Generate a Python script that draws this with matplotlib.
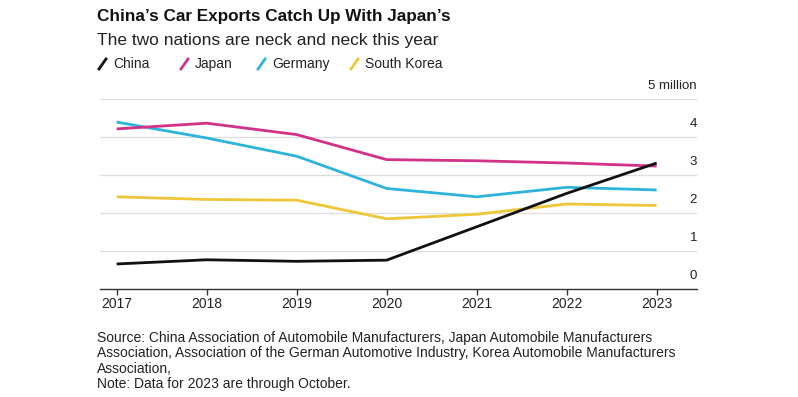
import matplotlib
matplotlib.use("Agg")
import matplotlib.pyplot as plt
from matplotlib.lines import Line2D

plt.rcParams['font.family'] = ['Liberation Sans', 'DejaVu Sans']

years = [2017, 2018, 2019, 2020, 2021, 2022, 2023]
china = [0.66, 0.77, 0.73, 0.76, 1.64, 2.52, 3.32]
japan = [4.22, 4.37, 4.07, 3.41, 3.38, 3.32, 3.24]
germany = [4.40, 3.98, 3.50, 2.65, 2.43, 2.68, 2.61]
south_korea = [2.43, 2.36, 2.34, 1.85, 1.97, 2.24, 2.20]
series_names = ["China", "Japan", "Germany", "South Korea"]
colors = ["#111111", "#d1318a", "#2db3dc", "#efc638"]
ytick_labels = ["0", "1", "2", "3", "4", "5 million"]

W, H = 798, 397
fig = plt.figure(figsize=(W / 100, H / 100), dpi=100)
fig.patch.set_facecolor("white")

ax = fig.add_axes([100 / W, (H - 289) / H, (697 - 100) / W, (289 - 99.3) / H])
ax.set_xlim(2016.815, 2023.448)
ax.set_ylim(0, 5)

for v in range(1, 6):
    ax.axhline(v, color="#dddddd", lw=0.9, zorder=0)

for vals, c in zip([germany, south_korea, japan, china], [colors[2], colors[3], colors[1], colors[0]]):
    ax.plot(years, vals, color=c, lw=2.0, solid_capstyle="butt", zorder=3)

for s in ["top", "right", "left"]:
    ax.spines[s].set_visible(False)
ax.spines["bottom"].set_color("#333333")
ax.spines["bottom"].set_linewidth(1.0)
ax.set_yticks([])
ax.set_xticks(years)
ax.set_xticklabels([str(y) for y in years], fontsize=10, color="#222222")
ax.tick_params(axis="x", length=4, width=1, color="#333333", pad=2)

for i, lab in enumerate(ytick_labels):
    ax.annotate(lab, xy=(1, i), xycoords=("axes fraction", "data"),
                xytext=(0, 5), textcoords="offset points",
                ha="right", va="bottom", fontsize=9.5, color="#222222")

fig.text(97 / W, 1 - 17 / H, "China\u2019s Car Exports Catch Up With Japan\u2019s",
         fontsize=12.3, fontweight="bold", ha="left", va="center", color="#111111")
fig.text(97 / W, 1 - 40 / H, "The two nations are neck and neck this year",
         fontsize=12.5, ha="left", va="center", color="#222222")

legend_x = [99, 181, 258, 351]
for x0, name, c in zip(legend_x, series_names, colors):
    fig.add_artist(Line2D([(x0) / W, (x0 + 7) / W], [1 - 69 / H, 1 - 59 / H],
                          transform=fig.transFigure, color=c, lw=2.0))
    fig.text((x0 + 14) / W, 1 - 64 / H, name, fontsize=10, ha="left", va="center",
             color="#222222")

source = ("Source: China Association of Automobile Manufacturers, Japan Automobile Manufacturers\n"
          "Association, Association of the German Automotive Industry, Korea Automobile Manufacturers\n"
          "Association,\n"
          "Note: Data for 2023 are through October.")
fig.text(97 / W, 1 - 331 / H, source, fontsize=10, ha="left", va="top",
         color="#222222", linespacing=1.12)

fig.savefig("out.png", dpi=100, facecolor="white")
